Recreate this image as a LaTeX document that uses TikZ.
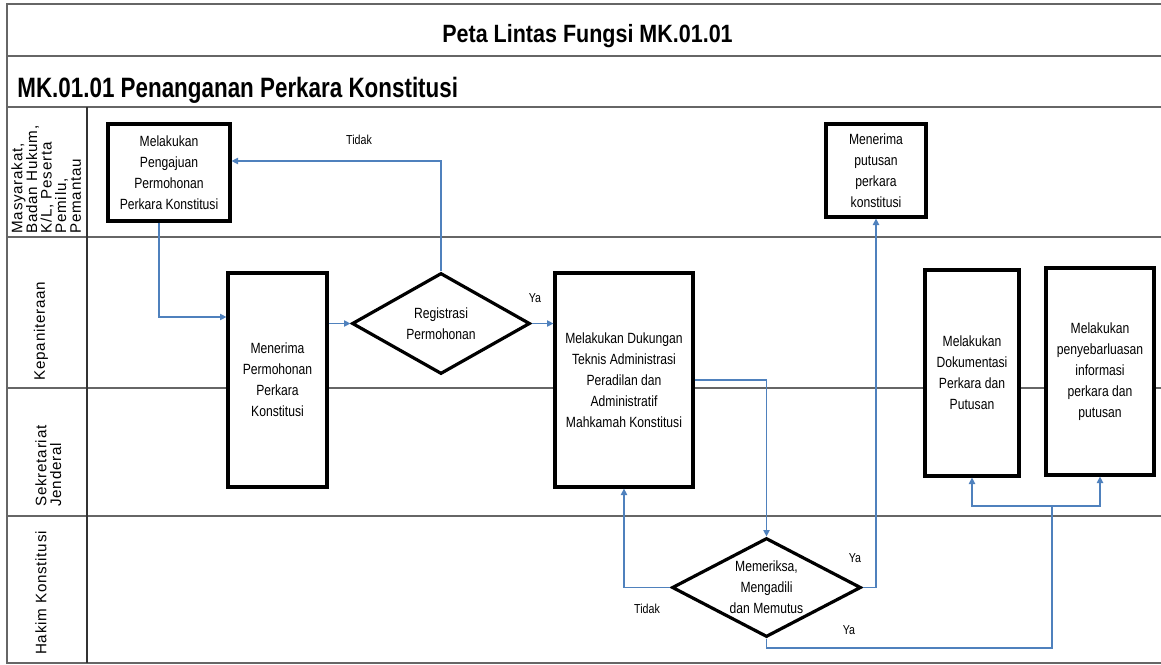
\documentclass[tikz,border=0pt]{standalone}
\usepackage{fontspec}
\setmainfont{Liberation Sans}
\newfontfamily\narrowfont{Liberation Sans}[FakeStretch=0.82]
\newfontfamily\headfont{Liberation Sans}[FakeStretch=0.86]
\newfontfamily\subheadfont{Liberation Sans}[FakeStretch=0.8]
\newfontfamily\lanefont{Liberation Sans}[LetterSpace=5]
\usetikzlibrary{arrows.meta, shapes.geometric, calc}
\definecolor{flowblue}{RGB}{79,129,189}

\begin{document}
\begin{tikzpicture}[x=0.5pt, y=-0.5pt,
            box/.style={draw, line width=1.6pt, fill=white, align=center, inner sep=0pt,
                font=\narrowfont\fontsize{7.4}{10.5}\selectfont},
            decision/.style={diamond, draw, line width=1.6pt, fill=white, inner sep=0pt},
            boxtext/.style={align=center, inner sep=0pt, font=\narrowfont\fontsize{7.4}{10.5}\selectfont},
            flow/.style={draw=flowblue, line width=0.6pt, -{Triangle[length=3.2pt,width=3.2pt]}},
            frame/.style={draw=black!60, line width=1.1pt},
            lanetext/.style={rotate=90, inner sep=0pt, font=\lanefont\fontsize{7.6}{7.3}\selectfont},
            answer/.style={inner sep=0pt, font=\narrowfont\fontsize{6.5}{7}\selectfont}]
            \path[use as bounding box] (0,0) rectangle (1161,664);

            \draw[frame] (1161,4) -- (7,4) -- (7,663) -- (1161,663);
            \draw[frame] (7,56) -- (1161,56);
            \draw[frame] (7,107) -- (1161,107);
            \draw[frame] (7,237) -- (1161,237);
            \draw[frame] (7,388) -- (1161,388);
            \draw[frame] (7,516) -- (1161,516);
            \draw[black!80, line width=0.7pt] (87,107) -- (87,663);

            \node[anchor=base, font=\headfont\bfseries\fontsize{12.5}{14}\selectfont] (title) at (587.5,42) {Peta Lintas Fungsi MK.01.01};
            \node[anchor=base west, inner sep=0pt, font=\subheadfont\bfseries\fontsize{14}{16}\selectfont] (subtitle) at (17,97) {MK.01.01 Penanganan Perkara Konstitusi};

            \node[lanetext, anchor=north west, align=left] (laneMas) at (11,234) {Masyarakat,\\Badan Hukum,\\K/L, Peserta\\Pemilu,\\Pemantau};
            \node[lanetext] (laneKep) at (41,331) {Kepaniteraan};
            \node[lanetext, anchor=north west, align=left] (laneSek) at (35,507) {Sekretariat\\Jenderal};
            \node[lanetext] (laneHak) at (41,593) {Hakim Konstitusi};

            \node[box, minimum width=61pt, minimum height=48.5pt] (A) at (169,172.5) {Melakukan\\Pengajuan\\Permohonan\\Perkara Konstitusi};
            \node[box, minimum width=49.5pt, minimum height=107pt] (B) at (277.5,380) {Menerima\\Permohonan\\Perkara\\Konstitusi};
            \node[decision, minimum width=89pt, minimum height=50.5pt] (R) at (441,323.5) {};
            \node[boxtext] (Rt) at (R) {Registrasi\\Permohonan};
            \node[box, minimum width=69pt, minimum height=107pt] (C) at (624,380) {Melakukan Dukungan\\Teknis Administrasi\\Peradilan dan\\Administratif\\Mahkamah Konstitusi};
            \node[box, minimum width=50pt, minimum height=46.5pt] (D) at (876,170.5) {Menerima\\putusan\\perkara\\konstitusi};
            \node[box, minimum width=47pt, minimum height=103pt] (E) at (972,373) {Melakukan\\Dokumentasi\\Perkara dan\\Putusan};
            \node[box, minimum width=54pt, minimum height=103.5pt] (F) at (1100,371.5) {Melakukan\\penyebarluasan\\informasi\\perkara dan\\putusan};
            \node[decision, minimum width=94.5pt, minimum height=49.5pt] (G) at (766.5,587.5) {};
            \node[boxtext] (Gt) at (G) {Memeriksa,\\Mengadili\\dan Memutus};

            \coordinate (K) at (1052,648);
            \coordinate (J) at (1052,506);

            \draw[flow] ([xshift=-5pt]A.south) |- ([yshift=31.5pt]B.west);
            \draw[flow] (B.east |- R.west) -- (R.west);
            \draw[flow] (R.north) |- ([yshift=5.75pt]A.east);
            \draw[flow] (R.east) -- (C.west |- R.east);
            \draw[flow] (C.east) -| (G.north);
            \draw[flow] (G.west) -| (C.south);
            \draw[flow] (G.east) -| (D.south);
            \draw[flow] (G.south) |- (K) -- (J) -| (E.south);
            \draw[flow] (J) -| (F.south);

            \node[answer] (tidakA) at (359,140) {Tidak};
            \node[answer] (yaR) at (535,298) {Ya};
            \node[answer] (yaD) at (855,558) {Ya};
            \node[answer] (tidakC) at (647,609) {Tidak};
            \node[answer] (yaE) at (849,630) {Ya};
        \end{tikzpicture}
\end{document}
